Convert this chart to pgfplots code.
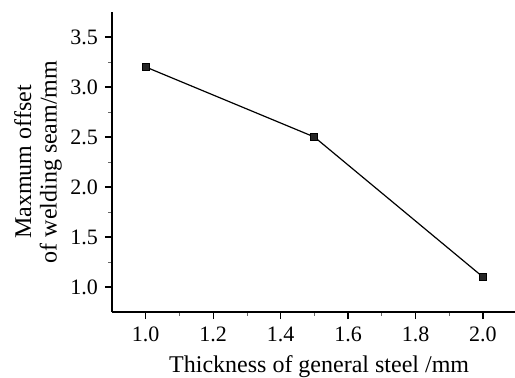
\documentclass[border=0pt]{standalone}
\usepackage{pgfplots}
\pgfplotsset{compat=1.18}
\usepackage{fontspec}
\setmainfont{Liberation Serif}
\begin{document}
\begin{tikzpicture}
\useasboundingbox (-112pt,-66pt) rectangle (403pt,312pt);
\begin{axis}[
  scale only axis,
  width=403pt, height=300pt,
  xmin=0.9, xmax=2.095, ymin=0.75, ymax=3.75,
  axis lines=left,
  axis line style={line width=1.4pt, -},
  xtick={1.0,1.2,1.4,1.6,1.8,2.0},
  ytick={1.0,1.5,2.0,2.5,3.0,3.5},
  minor x tick num=1, minor y tick num=1,
  tick align=outside,
  major tick length=7pt, minor tick length=3.5pt,
  major tick style={line width=1.2pt, black},
  minor tick style={line width=0.7pt, black!60},
  /pgf/number format/fixed,
  /pgf/number format/fixed zerofill,
  /pgf/number format/precision=1,
  /pgf/number format/assume math mode=true,
  ticklabel style={font=\fontsize{22}{24}\selectfont, inner sep=0pt},
  x tick label style={yshift=-8pt},
  y tick label style={xshift=-7pt},
  xlabel={Thickness of general steel /mm},
  ylabel={Maxmum offset\\of welding seam/mm},
  xlabel style={font=\fontsize{24}{26}\selectfont, at={(axis description cs:0.514,0)}, anchor=base, yshift=-60pt, inner sep=0pt},
  ylabel style={font=\fontsize{24}{25.5}\selectfont, align=center, at={(axis description cs:-0.124,0.5)}, anchor=south, inner sep=0pt},
  clip=false,
]
\addplot[black, line width=1.2pt, mark=square*, mark size=3.5pt, mark options={solid, fill=black!85}]
  coordinates {(1.0,3.2) (1.5,2.5) (2.0,1.1)};
\end{axis}
\end{tikzpicture}
\end{document}
